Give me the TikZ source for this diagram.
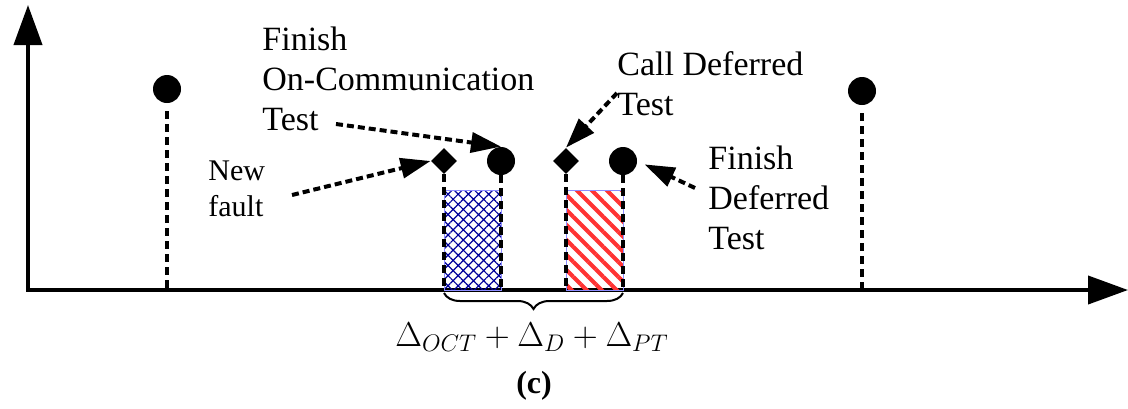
\documentclass[tikz,border=0pt]{standalone}
\usepackage{fontspec}
\setmainfont{Liberation Serif}
\usetikzlibrary{arrows.meta, positioning, shapes.geometric, patterns.meta,
                decorations.pathreplacing}

\tikzset{
  axhead/.tip={Triangle[length=20pt, width=14pt]},
  axis/.style={line width=2pt, line join=miter},
  event/.style={circle, fill=black, inner sep=0pt, minimum size=14pt},
  trigger/.style={diamond, fill=black, inner sep=0pt, minimum size=13pt},
  stem/.style={line width=1.6pt, dash pattern=on 4pt off 2.5pt},
  pointer/.style={line width=2pt, dash pattern=on 3.5pt off 2pt,
                  -{Triangle[length=15pt, width=10pt]}},
  caption/.style={font=\fontsize{17}{20}\selectfont, align=left,
                  inner sep=0pt, anchor=north west},
  octwin/.style={pattern={Hatch[angle=45, distance=3.6pt, line width=0.6pt]},
                 pattern color=blue!60!black, draw=blue!45, line width=0.5pt},
  defwin/.style={pattern={Lines[angle=-45, distance=5.3pt, line width=2pt]},
                 pattern color=red!80, draw=blue!45, line width=0.5pt},
  brace/.style={decorate, decoration={brace, mirror, amplitude=8pt, raise=1.5pt},
                line width=1pt},
}

\begin{document}
\begin{tikzpicture}[x=0.5pt, y=-0.5pt]
  \useasboundingbox (0,0) rectangle (1128,408);

  % axes
  \coordinate (O) at (28,290);
  \coordinate (yTop) at (28,5);
  \coordinate (xEnd) at (1128,290);
  \coordinate (winTop) at (0,190);
  \draw[axis, axhead-axhead] (yTop) -- (O) -- (xEnd);

  % events
  \node[event]   (e1)      at (167,89)  {};
  \node[event]   (e2)      at (862,91)  {};
  \node[trigger] (fault)   at (444,161) {};
  \node[event]   (octEnd)  at (501,161) {};
  \node[trigger] (defCall) at (566,161) {};
  \node[event]   (defEnd)  at (623,161) {};

  % test windows
  \path[octwin] (fault |- O) rectangle (octEnd |- winTop);
  \path[defwin] (defCall |- O) rectangle (defEnd |- winTop);

  % stems
  \draw[stem, shorten <=4pt] (e1) -- (e1 |- O);
  \draw[stem, shorten <=4pt] (e2) -- (e2 |- O);
  \foreach \ev in {fault, octEnd, defCall, defEnd}
    \draw[stem] (\ev) -- (\ev |- O);

  % labels
  \node[caption] (octLbl) at (262,27) {Finish\\On-Communication\\Test};
  \node[caption, font=\fontsize{15}{18}\selectfont] (faultLbl) at (208,160) {New\\fault};
  \node[caption] (callLbl) at (617,51) {Call Deferred\\Test};
  \node[caption] (defLbl) at (708,146) {Finish\\Deferred\\Test};

  \coordinate (octTail)   at (336,124);
  \coordinate (faultTail) at (292,195);
  \coordinate (callTail)  at (617,93);
  \coordinate (defTail)   at (695,188);
  \draw[pointer] (octTail) -- (octEnd.north);
  \draw[pointer] (faultTail) -- (fault.west);
  \draw[pointer] (callTail) -- (defCall.north);
  \draw[pointer, shorten >=4pt] (defTail) -- (defEnd.east);

  % total delay
  \draw[brace] (fault |- O) -- (defEnd |- O);
  \node (delta) at (532,337) {\fontsize{18.5}{21}\selectfont
    $\Delta_{OCT}+\Delta_{D}+\Delta_{PT}$};
  \node (panel) at (534,386) {\fontsize{16}{18}\selectfont\bfseries (c)};

\end{tikzpicture}
\end{document}
